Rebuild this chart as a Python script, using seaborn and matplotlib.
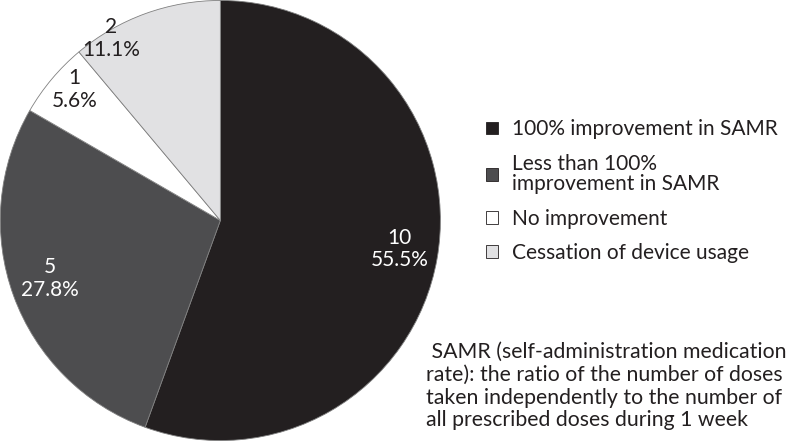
import numpy as np
import seaborn as sns
import matplotlib.pyplot as plt
from matplotlib.patches import Patch

counts = [10, 5, 1, 2]
pct_text = ["55.5%", "27.8%", "5.6%", "11.1%"]
categories = ["100% improvement in SAMR",
              "Less than 100%\nimprovement in SAMR",
              "No improvement",
              "Cessation of device usage"]
colors = ["#231f20", "#4d4d4f", "#ffffff", "#e1e1e3"]
text_colors = ["white", "white", "#231f20", "#231f20"]
# label placement (angle in degrees, distance as fraction of radius)
label_ang = [-9, 198.7, 138, 121]
label_dist = [0.825, 0.82, 0.89, 0.965]

note = (" SAMR (self-administration medication\n"
        "rate): the ratio of the number of doses\n"
        "taken independently to the number of\n"
        "all prescribed doses during 1 week")

sns.set_theme(style="white")
plt.rcParams["font.family"] = ["Lato", "DejaVu Sans"]

fig = plt.figure(figsize=(7.87, 4.41), dpi=100)
ax = fig.add_axes([-0.001, 0.0, 0.562, 1.0])

wedges, _ = ax.pie(counts, colors=colors, startangle=90, counterclock=False,
                   wedgeprops=dict(edgecolor="#808080", linewidth=0.6))
ax.set_aspect("equal")
ax.set_xlim(-1.005, 1.005)
ax.set_ylim(-1.0, 1.0)

for n, p, c, a, d in zip(counts, pct_text, text_colors, label_ang, label_dist):
    ang = np.deg2rad(a)
    ax.text(d * np.cos(ang), d * np.sin(ang), f"{n}\n{p}", ha="center", va="center",
            color=c, fontsize=15, linespacing=1.15)

handles = [Patch(facecolor=c, edgecolor="#231f20", linewidth=0.6) for c in colors]
leg = fig.legend(handles, categories, loc="upper left", bbox_to_anchor=(0.607, 0.748),
                 frameon=False, fontsize=15, handlelength=0.55, handleheight=0.55,
                 handletextpad=0.7, labelspacing=0.68, borderaxespad=0)
for t in leg.get_texts():
    t.set_linespacing(1.05)
    t.set_color("#231f20")

fig.text(0.541, 0.124, note, ha="left", va="center", fontsize=15.3, linespacing=1.17,
         color="#231f20")

fig.savefig("out.png", dpi=100)
